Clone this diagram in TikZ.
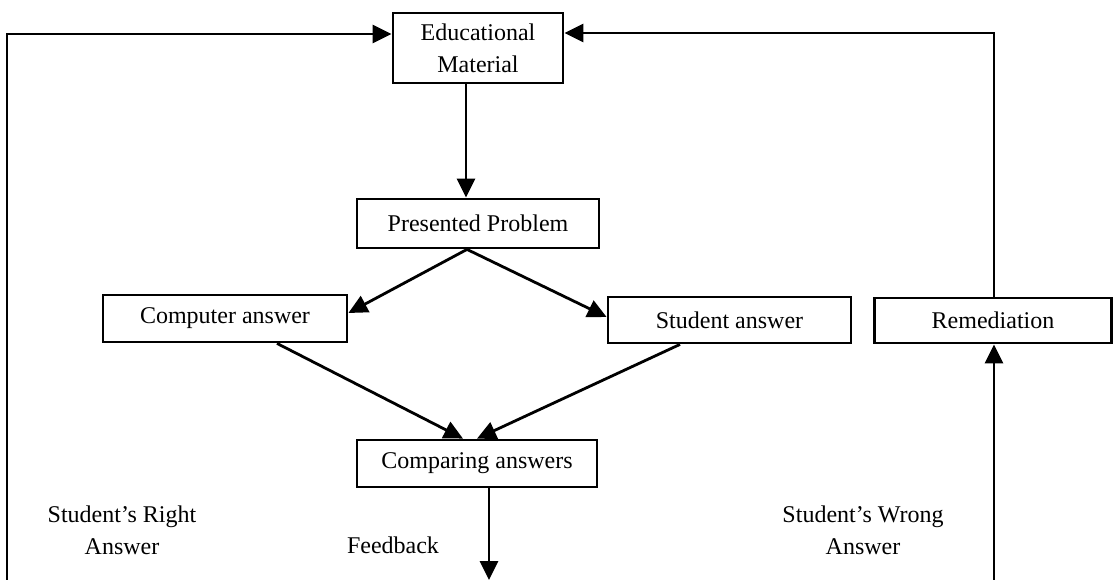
\documentclass[tikz,border=0pt]{standalone}
\usepackage{fontspec}
\setmainfont{Liberation Serif}
\usetikzlibrary{arrows.meta}
\begin{document}
\begin{tikzpicture}[x=1pt,y=-1pt,
  every node/.style={font=\fontsize{24}{32}\selectfont},
  box/.style={draw,line width=2.8pt,inner sep=0pt,align=center},
  link/.style={line width=2.8pt,-{Triangle[length=19pt,width=18pt]}},
  lbl/.style={align=center,inner sep=0pt}]
\useasboundingbox (0,0) rectangle (1120,580);

% boxes
\node[box,minimum width=170pt,minimum height=70pt] (em) at (478,48) {Educational\\Material};
\node[box,minimum width=242pt,minimum height=49pt] (pp) at (478,223.5) {Presented Problem};
\node[box,minimum width=244pt,minimum height=47pt] (ca) at (225,318.5) {Computer answer};
\node[box,minimum width=243pt,minimum height=46pt] (sa) at (729.5,320) {Student answer};
\node[box,minimum width=237pt,minimum height=45pt] (rem) at (993,320.5) {Remediation};
\node[box,minimum width=240pt,minimum height=47pt] (cmp) at (477,463.5) {Comparing answers};

% labels
\node[lbl] (right) at (122,530) {Student’s Right\\Answer};
\node[lbl] (fb) at (393,545) {Feedback};
\node[lbl] (wrong) at (863,530) {Student’s Wrong\\Answer};

% loose ends at the bottom edge
\coordinate (bl) at (7,580);
\coordinate (fbend) at (489,580);
\coordinate (br) at (994,580);

% connectors
\draw[link] ([xshift=-12pt]em.south) -- ([xshift=-12pt]pp.north);
\draw[link] ([xshift=-11pt]pp.south) -- ([yshift=5.5pt]ca.east);
\draw[link] ([xshift=-11pt]pp.south) -- ([yshift=3pt]sa.west);
\draw[link] ([xshift=52pt]ca.south) -- ([xshift=-14pt]cmp.north);
\draw[link] ([xshift=-49.5pt]sa.south) -- (cmp.north);
\draw[link] ([xshift=12pt]cmp.south) -- (fbend);
\draw[link] (bl) |- ([yshift=14pt]em.west);
\draw[link] ([xshift=1pt]rem.north) |- ([yshift=15pt]em.east);
\draw[link] (br) -- ([xshift=1pt]rem.south);
\end{tikzpicture}
\end{document}
